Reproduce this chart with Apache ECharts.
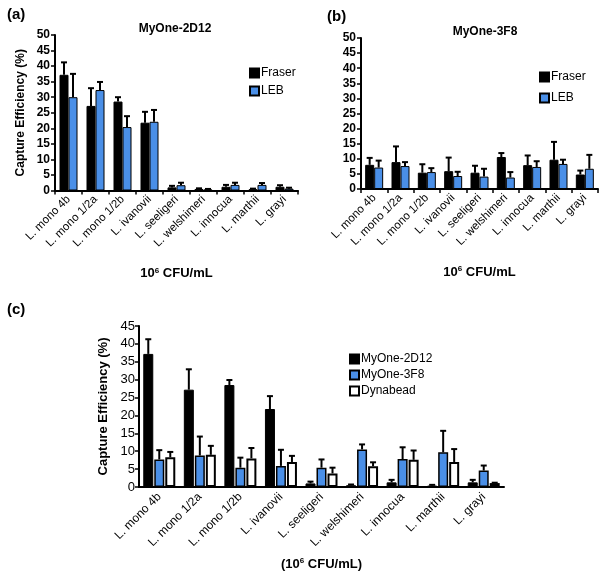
<!DOCTYPE html>
<html><head><meta charset="utf-8">
<script src="https://cdn.jsdelivr.net/npm/echarts@6/dist/echarts.min.js"></script>
<style>html,body{margin:0;padding:0;background:#fff}#c{width:600px;height:572px}</style>
</head><body><div id="c"></div>
<script>
const categories = ['L. mono 4b','L. mono 1/2a','L. mono 1/2b','L. ivanovii','L. seeligeri','L. welshimeri','L. innocua','L. marthii','L. grayi'];
const yTicksAB = [0,5,10,15,20,25,30,35,40,45,50];
const yTicksC = [0,5,10,15,20,25,30,35,40,45];

const aFraser    = [37.2,27.2,28.6,21.8,1.0,0.5,1.2,0.4,1.2];
const aFraserErr = [4.0,5.7,1.4,3.5,0.5,0.2,0.6,0.2,0.5];
const aLEB       = [30.0,32.3,20.4,22.1,1.7,0.3,1.8,1.8,0.6];
const aLEBErr    = [7.5,2.6,3.5,3.8,0.8,0.2,0.7,0.6,0.3];

const bFraser    = [8.0,8.9,5.4,5.9,5.4,10.6,7.9,9.7,4.8];
const bFraserErr = [2.3,5.2,2.8,4.5,2.3,1.3,3.2,5.9,1.3];
const bLEB       = [7.1,7.6,5.6,4.3,4.1,3.8,7.3,8.3,6.7];
const bLEBErr    = [2.3,1.3,1.3,1.4,2.6,1.8,1.9,1.4,4.6];

const c2D12      = [37.2,27.2,28.5,21.8,1.0,0.5,1.3,0.4,1.3];
const c2D12Err   = [4.1,5.7,1.4,3.6,0.5,0.2,0.7,0.2,0.7];
const c3F8       = [7.7,8.8,5.4,5.9,5.4,10.5,7.8,9.7,4.6];
const c3F8Err    = [2.6,5.3,2.8,4.5,2.3,1.4,3.3,6.0,1.4];
const cDyna      = [8.3,9.0,8.0,7.0,3.8,5.8,7.6,7.0,1.1];
const cDynaErr   = [1.5,2.5,2.9,1.7,1.6,1.1,2.6,3.6,0.1];

const BLUE = '#4a8fe7';
const FONT = 'Liberation Sans, Arial, sans-serif';

function errSeries(name, vals, errs, xi, offset) {
  return {
    type: 'custom', name: name, xAxisIndex: xi, yAxisIndex: xi, z: 5,
    silent: true,
    renderItem: function (params, api) {
      const p0 = api.coord([api.value(0), api.value(1)]);
      const p1 = api.coord([api.value(0), api.value(2)]);
      const cx = p0[0] + offset;
      return { type: 'group', children: [
        { type: 'line', shape: { x1: cx, y1: p0[1], x2: cx, y2: p1[1] }, style: { stroke: '#000', lineWidth: 2 } },
        { type: 'line', shape: { x1: cx - 3, y1: p1[1], x2: cx + 3, y2: p1[1] }, style: { stroke: '#000', lineWidth: 2 } }
      ]};
    },
    data: vals.map((v, i) => [i, v, v + errs[i]])
  };
}

function xAxisAB(idx) {
  return {
    type: 'category', gridIndex: idx, data: categories,
    axisLine: { lineStyle: { color: '#000', width: 2 } },
    axisTick: { show: true, alignWithLabel: false, length: 4, lineStyle: { color: '#000', width: 1.5 } },
    axisLabel: { interval: 0, rotate: 45, fontSize: 11.5, color: '#000', fontFamily: FONT, margin: 7 },
    name: '10{sup|6} CFU/mL', nameLocation: 'middle', nameGap: 76,
    nameTextStyle: { fontSize: 13, fontWeight: 'bold', color: '#000', fontFamily: FONT,
      rich: { sup: { fontSize: 8, fontWeight: 'bold', verticalAlign: 'top', padding: [0,0,6,0] } } }
  };
}
function yAxisAB(idx, withName) {
  return {
    type: 'value', gridIndex: idx, min: 0, max: 50, interval: 5,
    splitLine: { show: false },
    axisLine: { show: true, lineStyle: { color: '#000', width: 2 } },
    axisTick: { show: true, length: 4, lineStyle: { color: '#000', width: 1.5 } },
    axisLabel: { fontSize: 12, fontWeight: 'bold', color: '#000', fontFamily: FONT, margin: 5,
      formatter: v => yTicksAB.includes(v) ? String(v) : '' },
    name: withName ? 'Capture Efficiency (%)' : '', nameLocation: 'middle', nameRotate: 90, nameGap: 28,
    nameTextStyle: { fontSize: 12, fontWeight: 'bold', color: '#000', fontFamily: FONT }
  };
}

const option = {
  backgroundColor: '#fff',
  animation: false,
  textStyle: { fontFamily: FONT },
  title: [
    { text: '(a)', left: 2, top: 2, textStyle: { fontSize: 15, fontWeight: 'bold', color: '#000', fontFamily: FONT } },
    { text: 'MyOne-2D12', left: 170, top: 18, textAlign: 'center', textStyle: { fontSize: 12, fontWeight: 'bold', color: '#000', fontFamily: FONT } },
    { text: '(b)', left: 322, top: 4, textStyle: { fontSize: 15, fontWeight: 'bold', color: '#000', fontFamily: FONT } },
    { text: 'MyOne-3F8', left: 480, top: 21, textAlign: 'center', textStyle: { fontSize: 12, fontWeight: 'bold', color: '#000', fontFamily: FONT } },
    { text: '(c)', left: 2, top: 297, textStyle: { fontSize: 15, fontWeight: 'bold', color: '#000', fontFamily: FONT } }
  ],
  legend: [
    { data: ['Fraser', 'LEB'], seriesIndex: [0,1], left: 244, top: 62, orient: 'vertical', itemGap: 6, itemWidth: 9, itemHeight: 9, icon: 'rect',
      textStyle: { fontSize: 12, color: '#000', fontFamily: FONT, padding: [0,0,0,-3] }, selectedMode: false },
    { data: ['Fraser', 'LEB'], left: 534, top: 66, orient: 'vertical', itemGap: 9, itemWidth: 9, itemHeight: 9, icon: 'rect',
      textStyle: { fontSize: 12, color: '#000', fontFamily: FONT, padding: [0,0,0,-3] }, selectedMode: false },
    { data: ['MyOne-2D12', 'MyOne-3F8', 'Dynabead'], left: 344, top: 348, orient: 'vertical', itemGap: 4, itemWidth: 9, itemHeight: 9, icon: 'rect',
      textStyle: { fontSize: 12, color: '#000', fontFamily: FONT, padding: [0,0,0,-3] }, selectedMode: false }
  ],
  grid: [
    { left: 55, top: 35, width: 243, height: 155.5 },
    { left: 361, top: 38, width: 237, height: 151 },
    { left: 139, top: 326, width: 365, height: 161 }
  ],
  xAxis: [
    xAxisAB(0), xAxisAB(1),
    { type: 'category', gridIndex: 2, data: categories,
      axisLine: { lineStyle: { color: '#000', width: 2 } },
      axisTick: { show: false },
      axisLabel: { interval: 0, rotate: 45, fontSize: 12, color: '#000', fontFamily: FONT, margin: 8 },
      name: '(10{sup|6} CFU/mL)', nameLocation: 'middle', nameGap: 70,
      nameTextStyle: { fontSize: 13, fontWeight: 'bold', color: '#000', fontFamily: FONT,
        rich: { sup: { fontSize: 8, fontWeight: 'bold', verticalAlign: 'top', padding: [0,0,6,0] } } } }
  ],
  yAxis: [
    yAxisAB(0, true), yAxisAB(1, false),
    { type: 'value', gridIndex: 2, min: 0, max: 45, interval: 5,
      splitLine: { show: false },
      axisLine: { show: true, lineStyle: { color: '#000', width: 2 } },
      axisTick: { show: true, length: 4, lineStyle: { color: '#000', width: 1.5 } },
      axisLabel: { fontSize: 13, color: '#000', fontFamily: FONT, margin: 4,
        formatter: v => yTicksC.includes(v) ? String(v) : '' },
      name: 'Capture Efficiency (%)', nameLocation: 'middle', nameRotate: 90, nameGap: 24,
      nameTextStyle: { fontSize: 13, fontWeight: 'bold', color: '#000', fontFamily: FONT } }
  ],
  series: [
    { type: 'bar', name: 'Fraser', xAxisIndex: 0, yAxisIndex: 0, data: aFraser, barWidth: 9, barGap: '0%',
      itemStyle: { color: '#000', borderColor: '#000', borderWidth: 1 } },
    { type: 'bar', name: 'LEB', xAxisIndex: 0, yAxisIndex: 0, data: aLEB, barWidth: 9, barGap: '0%',
      itemStyle: { color: BLUE, borderColor: '#000', borderWidth: 1 } },
    { type: 'bar', name: 'Fraser', xAxisIndex: 1, yAxisIndex: 1, data: bFraser, barWidth: 9, barGap: '0%',
      itemStyle: { color: '#000', borderColor: '#000', borderWidth: 1 } },
    { type: 'bar', name: 'LEB', xAxisIndex: 1, yAxisIndex: 1, data: bLEB, barWidth: 9, barGap: '0%',
      itemStyle: { color: BLUE, borderColor: '#000', borderWidth: 1 } },
    { type: 'bar', name: 'MyOne-2D12', xAxisIndex: 2, yAxisIndex: 2, data: c2D12, barWidth: 10, barGap: '10%',
      itemStyle: { color: '#000', borderColor: '#000', borderWidth: 1 } },
    { type: 'bar', name: 'MyOne-3F8', xAxisIndex: 2, yAxisIndex: 2, data: c3F8, barWidth: 10, barGap: '10%',
      itemStyle: { color: BLUE, borderColor: '#000', borderWidth: 1.5 } },
    { type: 'bar', name: 'Dynabead', xAxisIndex: 2, yAxisIndex: 2, data: cDyna, barWidth: 10, barGap: '10%',
      itemStyle: { color: '#fff', borderColor: '#000', borderWidth: 2 } },
    errSeries('eaF', aFraser, aFraserErr, 0, -4.5),
    errSeries('eaL', aLEB, aLEBErr, 0, 4.5),
    errSeries('ebF', bFraser, bFraserErr, 1, -4.5),
    errSeries('ebL', bLEB, bLEBErr, 1, 4.5),
    errSeries('ec1', c2D12, c2D12Err, 2, -11),
    errSeries('ec2', c3F8, c3F8Err, 2, 0),
    errSeries('ec3', cDyna, cDynaErr, 2, 11)
  ]
};
const chart = echarts.init(document.getElementById('c'), null, { renderer: 'canvas' });
chart.setOption(option);
</script></body></html>
